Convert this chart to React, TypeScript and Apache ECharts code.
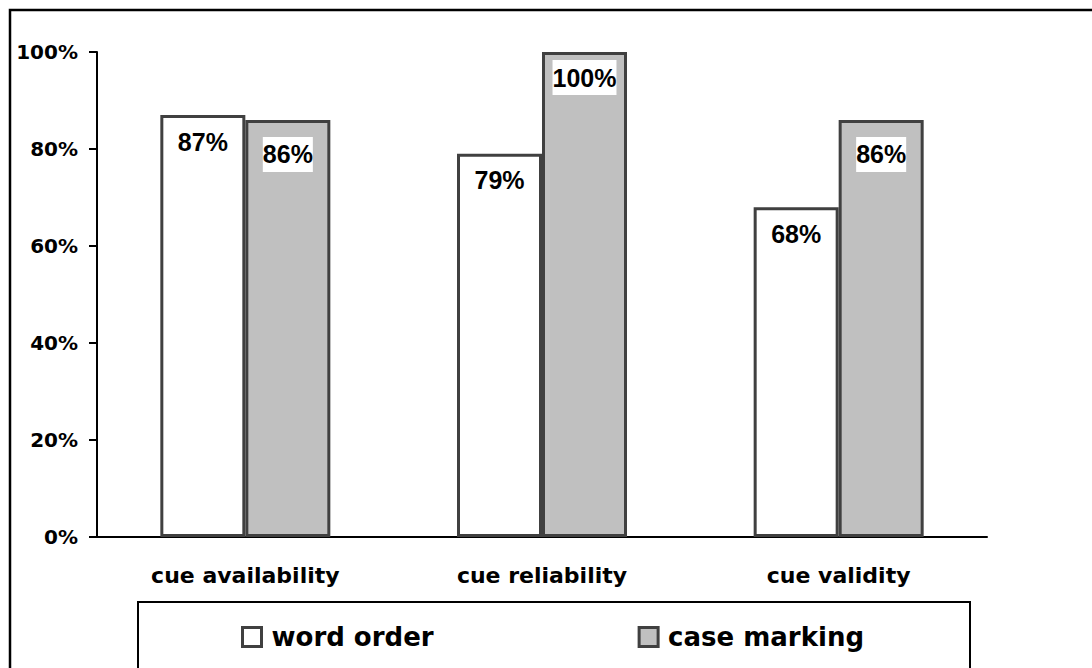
import React, { useEffect, useRef } from "react";
import * as echarts from "echarts";

const categories = ["cue availability", "cue reliability", "cue validity"];
const wordOrder = [87, 79, 68];
const caseMarking = [86, 100, 86];
const seriesNames = ["word order", "case marking"];
const yTicks = { min: 0, max: 100, interval: 20 };

export default function App() {
  const ref = useRef<HTMLDivElement>(null);
  useEffect(() => {
    if (!ref.current) return;
    const chart = echarts.init(ref.current, undefined, { renderer: "svg" });
    const barLabelFont = {
      fontFamily: "Liberation Sans",
      fontWeight: "bold" as const,
      fontSize: 25,
      color: "#000",
    };
    chart.setOption({
      animation: false,
      backgroundColor: "#fff",
      grid: { left: 97, right: 105, top: 52, bottom: 131 },
      xAxis: {
        type: "category",
        data: categories,
        axisLine: { lineStyle: { color: "#000", width: 2 } },
        axisTick: { length: 8, lineStyle: { color: "#000", width: 2 } },
        axisLabel: {
          margin: 27,
          fontFamily: "DejaVu Sans",
          fontWeight: "bold",
          fontSize: 22,
          color: "#000",
        },
      },
      yAxis: {
        type: "value",
        min: yTicks.min,
        max: yTicks.max,
        interval: yTicks.interval,
        axisLine: { show: true, lineStyle: { color: "#000", width: 2 } },
        axisTick: { show: true, length: 8, lineStyle: { color: "#000", width: 2 } },
        splitLine: { show: false },
        axisLabel: {
          margin: 19,
          formatter: "{value}%",
          fontFamily: "DejaVu Sans",
          fontWeight: "bold",
          fontSize: 20,
          color: "#000",
        },
      },
      legend: {
        left: 241,
        top: 624,
        padding: 0,
        itemWidth: 19,
        itemHeight: 19,
        itemGap: 204,
        icon: "rect",
        itemStyle: { borderColor: "#404040", borderWidth: 3 },
        textStyle: {
          fontFamily: "DejaVu Sans",
          fontWeight: "bold",
          fontSize: 26,
          color: "#000",
          padding: [0, 0, 0, 5],
        },
        data: seriesNames,
      },
      graphic: [
        {
          type: "rect",
          shape: { x: 10, y: 10, width: 1100, height: 700 },
          style: { fill: "none", stroke: "#000", lineWidth: 2.5 },
          silent: true,
        },
        {
          type: "rect",
          shape: { x: 138, y: 602, width: 832, height: 100 },
          style: { fill: "none", stroke: "#000", lineWidth: 2 },
          silent: true,
        },
      ],
      series: [
        {
          name: seriesNames[0],
          type: "bar",
          barWidth: 85,
          barGap: "0%",
          data: wordOrder,
          itemStyle: { color: "#ffffff", borderColor: "#404040", borderWidth: 3 },
          label: {
            show: true,
            position: "insideTop",
            distance: 14,
            formatter: "{c}%",
            ...barLabelFont,
          },
        },
        {
          name: seriesNames[1],
          type: "bar",
          barWidth: 85,
          barGap: "0%",
          data: caseMarking.map((v) => ({
            value: v,
            label: { distance: v >= 100 ? 8 : 17 },
          })),
          itemStyle: { color: "#c0c0c0", borderColor: "#404040", borderWidth: 3 },
          label: {
            show: true,
            position: "insideTop",
            formatter: "{c}%",
            backgroundColor: "#ffffff",
            padding: [5, 0, 5, 0],
            ...barLabelFont,
          },
        },
      ],
    });
    return () => chart.dispose();
  }, []);
  return (
    <div
      ref={ref}
      style={{ position: "absolute", left: 0, top: 0, width: 1092, height: 668 }}
    />
  );
}
